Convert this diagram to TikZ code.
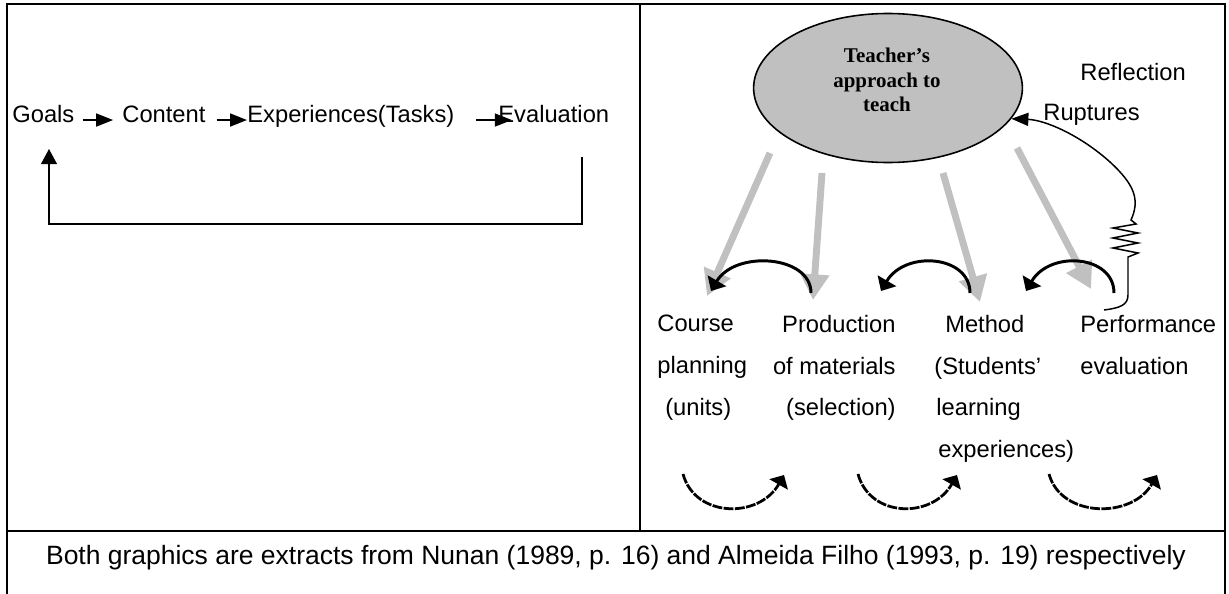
\documentclass[tikz,border=0pt]{standalone}
\usepackage{fontspec}
\setmainfont{Liberation Sans}
\newfontfamily\ellfont{Liberation Serif}
\usetikzlibrary{arrows.meta, shapes.geometric}
\definecolor{shade}{HTML}{C0C0C0}

\begin{document}
\begin{tikzpicture}[
    x=0.506pt, y=-0.506pt,
    frame/.style={line width=1pt},
    lbl/.style={inner sep=0pt, font=\fontsize{12}{21.1}\selectfont},
    col/.style={lbl, anchor=north west, align=left},
    ell/.style={
      ellipse, draw, line width=0.8pt, fill=shade,
      minimum width=136pt, minimum height=75.4pt, inner sep=0pt
    },
    elltxt/.style={inner sep=0pt, align=center, anchor=north,
      font=\ellfont\bfseries\fontsize{10.6}{12.4}\selectfont},
    fl/.style={-{Triangle[length=8.6pt, width=6.6pt]}, line width=0.75pt},
    fb/.style={-{Triangle[length=7.6pt, width=8pt]}, line width=0.75pt},
    ray/.style={-{Triangle[length=13pt, width=14pt]}, line width=3.5pt, draw=shade},
    turn/.style={-{Triangle[length=6pt, width=10.6pt]}, line width=1.5pt},
    back/.style={-{Triangle[length=5.5pt, width=10.5pt]}, line width=1.4pt,
      dash pattern=on 5pt off 0.7pt},
    wire/.style={-{Triangle[length=8.6pt, width=6.6pt]}, line width=0.75pt}
  ]
    \useasboundingbox (0,0) rectangle (1229,594);

    % --- frame ---
    \draw[frame] (7,594) -- (7,4) -- (1225,4) -- (1225,594);
    \draw[frame] (640,4) -- (640,531);
    \draw[frame] (7,531) -- (1225,531);
    \node[lbl, anchor=base, font=\fontsize{13.4}{16}\selectfont] (caption) at (616,564)
      {Both graphics are extracts from Nunan (1989, p. 16) and Almeida Filho (1993, p. 19) respectively};

    % --- left panel ---
    \node[lbl, anchor=base west] (goals)   at (12,122)  {Goals};
    \node[lbl, anchor=base west] (content) at (122,122) {Content};
    \node[lbl, anchor=base west] (exper)   at (247,122) {Experiences(Tasks)};
    \node[lbl, anchor=base west] (evalu)   at (498,122) {Evaluation};

    \draw[fl, shorten <=4pt, shorten >=4.5pt]
      ([yshift=1pt]goals.base east) -- ([yshift=1pt]content.base west);
    \draw[fl, shorten <=5.5pt]
      ([yshift=1pt]content.base east) -- ([yshift=1pt]exper.base west);
    \draw[fl, shorten <=11pt, shorten >=-7pt]
      ([yshift=1pt]exper.base east) -- ([yshift=1pt]evalu.base west);

    \coordinate (fbr) at (582,157);
    \coordinate (fbb) at (49,224);
    \coordinate (fbl) at (49,149);
    \draw[fb] (fbr) |- (fbb) -- (fbl);

    % --- right panel ---
    \node[ell] (teacher) at (888,88) {};
    \node[elltxt] (teachtxt) at (887,48) {Teacher’s\\approach to\\teach};
    \node[lbl, anchor=base west] (reflect) at (1080,80)  {Reflection};
    \node[lbl, anchor=base west] (rupt)    at (1043,120) {Ruptures};

    \node[col] (course) at (657,315) {Course\\planning\\\hspace{4pt}(units)};
    \node[col, anchor=north east, align=right] (prod) at (896,315)
      {Production\\of materials\\(selection)};
    \node[col] (method) at (934,315)
      {\hspace{5.5pt}Method\\(Students’\\\hspace{1pt}learning\\\hspace{2pt}experiences)};
    \node[col] (perf) at (1080,315) {Performance\\evaluation};

    % gray rays from the approach
    \coordinate (r1a) at (770,153);  \coordinate (r1b) at (707,296);
    \coordinate (r2a) at (822,173);  \coordinate (r2b) at (813,300);
    \coordinate (r3a) at (943,173);  \coordinate (r3b) at (980,302);
    \coordinate (r4a) at (1017,148); \coordinate (r4b) at (1091,289);
    \draw[ray] (r1a) -- (r1b);
    \draw[ray] (r2a) -- (r2b);
    \draw[ray] (r3a) -- (r3b);
    \draw[ray] (r4a) -- (r4b);

    % turning arrows above the labels
    \coordinate (u1r) at (811,293);  \coordinate (u1l) at (711,291);
    \coordinate (u2r) at (970,293);  \coordinate (u2l) at (881,291);
    \coordinate (u3r) at (1114,293); \coordinate (u3l) at (1026,291);
    \draw[turn] (u1r) .. controls +(0,-38) and +(24,-41) .. (u1l);
    \draw[turn] (u2r) .. controls +(0,-38) and +(24,-41) .. (u2l);
    \draw[turn] (u3r) .. controls +(0,-38) and +(24,-41) .. (u3l);

    % returning arrows below the labels
    \coordinate (d1l) at (683,474);  \coordinate (d1r) at (784,475);
    \coordinate (d2l) at (858,474);  \coordinate (d2r) at (957,475);
    \coordinate (d3l) at (1049,474); \coordinate (d3r) at (1157,475);
    \draw[back] (d1l) .. controls +(12,44) and +(-25,44) .. (d1r);
    \draw[back] (d2l) .. controls +(12,44) and +(-25,44) .. (d2r);
    \draw[back] (d3l) .. controls +(12,44) and +(-25,44) .. (d3r);

    % ruptures wire back to the approach
    \coordinate (wend) at (1104,310);
    \draw[wire] (wend) .. controls (1120,308) and (1128,305) .. (1128,295)
      -- (1128,257) -- (1138,253) -- (1113,248) -- (1138,243) -- (1113,238)
      -- (1138,233) -- (1113,228) -- (1136,224) -- (1131,220)
      .. controls (1140,200) and (1135,185) .. (1110,162)
      .. controls (1080,135) and (1045,120) .. (teacher.-14);
  \end{tikzpicture}
\end{document}
